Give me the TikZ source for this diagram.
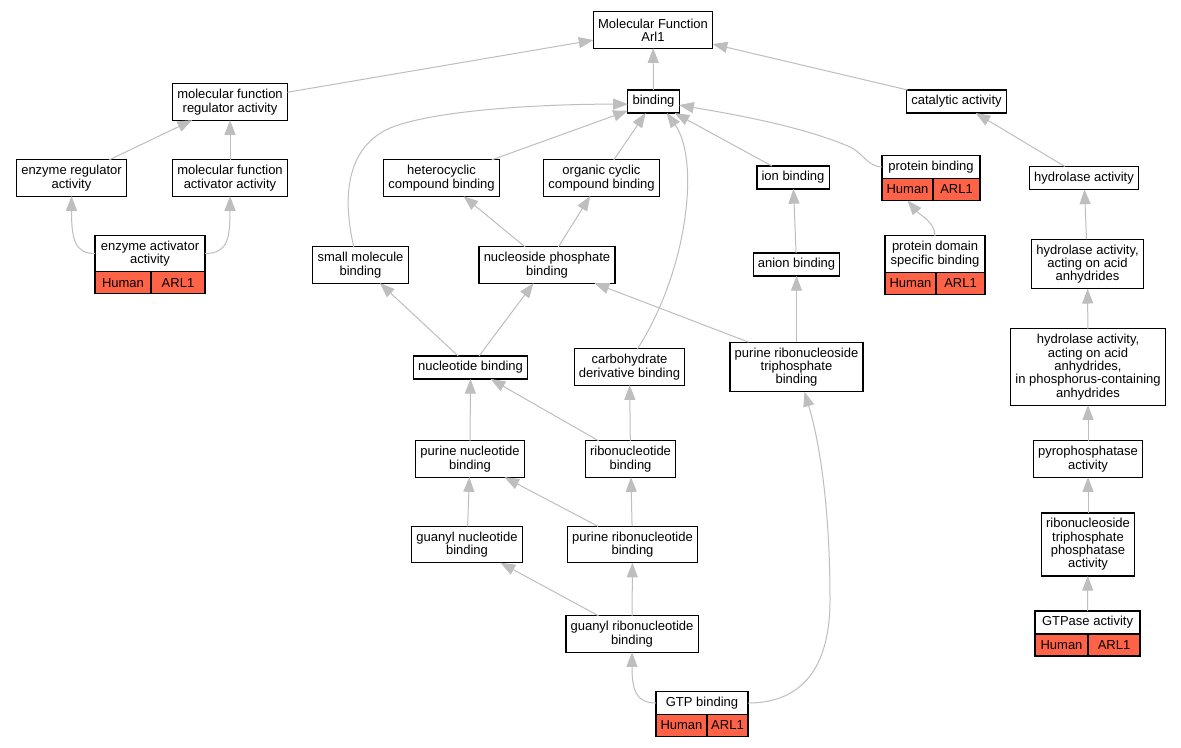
\documentclass[tikz,border=0pt]{standalone}
\usepackage{fontspec}
\setmainfont{Liberation Sans}
\usetikzlibrary{arrows.meta}
\definecolor{tomato}{RGB}{255,99,71}
\definecolor{edgegray}{RGB}{190,190,190}
\begin{document}
\begin{tikzpicture}[x=0.75pt, y=-0.75pt,
    term/.style={draw, fill=white, line width=0.9pt, outer sep=0pt, align=center,
      inner xsep=3.5pt, inner ysep=1pt, font=\fontsize{9.75}{10}\selectfont,
      minimum height={7.25pt+#1*10pt}},
    term/.default=1,
    cell/.style={draw, fill=tomato, line width=0.9pt, outer sep=0pt, anchor=north west,
      inner sep=0pt, minimum height=16.5pt, font=\fontsize{9.75}{10}\selectfont}]
  \path[use as bounding box, fill=white] (0,0) rectangle (1181,747);
  % terms
  \node[term=2] (mf) at (653,30) {Molecular Function\\Arl1};
  \node[term=2] (mfra) at (230,102) {molecular function\\regulator activity};
  \node[term] (binding) at (653.5,101.5) {binding};
  \node[term] (cat) at (956.5,101.5) {catalytic activity};
  \node[term=2] (era) at (71.5,178) {enzyme regulator\\activity};
  \node[term=2] (mfaa) at (230,178) {molecular function\\activator activity};
  \node[term=2] (hcb) at (441.5,178) {heterocyclic\\compound binding};
  \node[term=2] (ocb) at (601.5,178) {organic cyclic\\compound binding};
  \node[term] (ion) at (793,177.5) {ion binding};
  \node[term, minimum width=73.5pt] (pb) at (931,167) {protein binding};
  \node[term] (hyd) at (1084,178) {hydrolase activity};
  \node[term=2, minimum width=82.5pt] (eaa) at (150,253.5) {enzyme activator\\activity};
  \node[term=2] (sm) at (360.5,265) {small molecule\\binding};
  \node[term=2] (npb) at (547,265) {nucleoside phosphate\\binding};
  \node[term] (anion) at (796.5,264.5) {anion binding};
  \node[term=2, minimum width=75pt] (pdsb) at (935,254) {protein domain\\specific binding};
  \node[term=3] (haaa) at (1087.5,264) {hydrolase activity,\\acting on acid\\anhydrides};
  \node[term] (nb) at (470.5,367.5) {nucleotide binding};
  \node[term=2] (cdb) at (629.5,367) {carbohydrate\\derivative binding};
  \node[term=3] (prtb) at (796.5,367) {purine ribonucleoside\\triphosphate\\binding};
  \node[term=5] (hapc) at (1088,367) {hydrolase activity,\\acting on acid\\anhydrides,\\in phosphorus-containing\\anhydrides};
  \node[term=2] (pnb) at (470,459) {purine nucleotide\\binding};
  \node[term=2] (rb) at (630.5,459) {ribonucleotide\\binding};
  \node[term=2] (pyro) at (1088,459) {pyrophosphatase\\activity};
  \node[term=2] (gnb) at (467,544.5) {guanyl nucleotide\\binding};
  \node[term=2] (prnb) at (632.5,544.5) {purine ribonucleotide\\binding};
  \node[term=4] (rtpa) at (1088,544.5) {ribonucleoside\\triphosphate\\phosphatase\\activity};
  \node[term=2] (grnb) at (632,634) {guanyl ribonucleotide\\binding};
  \node[term, minimum width=78.75pt] (gtpase) at (1087.5,622.5) {GTPase activity};
  \node[term, minimum width=69pt] (gtp) at (702,703) {GTP binding};
  % annotations
  \node[cell, minimum width=42pt] (eaah) at (eaa.south west) {Human};
  \node[cell, minimum width=40.5pt] (eaaa) at (eaah.north east) {ARL1};
  \node[cell, minimum width=38.25pt] (pbh) at (pb.south west) {Human};
  \node[cell, minimum width=35.25pt] (pba) at (pbh.north east) {ARL1};
  \node[cell, minimum width=38.25pt] (pdsbh) at (pdsb.south west) {Human};
  \node[cell, minimum width=36.75pt] (pdsba) at (pdsbh.north east) {ARL1};
  \node[cell, minimum width=39.75pt] (gtpaseh) at (gtpase.south west) {Human};
  \node[cell, minimum width=39pt] (gtpasea) at (gtpaseh.north east) {ARL1};
  \node[cell, minimum width=38.25pt] (gtph) at (gtp.south west) {Human};
  \node[cell, minimum width=30.75pt] (gtpa) at (gtph.north east) {ARL1};
  \begin{scope}[color=edgegray, line width=0.75pt, -{Triangle[length=11pt, width=8.25pt]}]
    \draw (mfra) to (mf);
    \draw (binding) to (mf);
    \draw (cat) to (mf);
    \draw (era) to (mfra);
    \draw (mfaa) to (mfra);
    \draw (eaa.west) .. controls (75,253.5) and (71.5,240) .. (era.south);
    \draw (eaa.east) .. controls (227,253.5) and (230,240) .. (mfaa.south);
    \draw ([xshift=-5pt]sm.north) .. controls (345,210) and (340,150) .. (390,128)
      .. controls (440,108) and (560,104) .. ([yshift=-2pt]binding.west);
    \draw (hcb) to (binding);
    \draw (ocb) to (binding);
    \draw ([xshift=6pt]cdb.north) .. controls (688,270) and (700,160) .. ([xshift=10pt]binding.south);
    \draw (ion) to (binding);
    \draw (pb.west) .. controls (868,167) and (862,152) .. (850,147)
      .. controls (800,125) and (720,112) .. (binding.-8);
    \draw (npb) to (hcb);
    \draw (npb) to (ocb);
    \draw (nb) to (sm);
    \draw (nb) to (npb);
    \draw ([xshift=14pt]prtb.north west) to (npb);
    \draw (prtb) to (anion);
    \draw (anion) to (ion);
    \draw (pnb) to (nb);
    \draw (rb) to (nb);
    \draw (rb) to (cdb);
    \draw (gnb) to (pnb);
    \draw (prnb) to (pnb);
    \draw (prnb) to (rb);
    \draw (grnb) to (gnb);
    \draw (grnb) to (prnb);
    \draw (gtp.west) .. controls (636,703) and (632,690) .. (grnb.south);
    \draw (gtp.east) .. controls (800,703) and (830,670) .. (830,600)
      .. controls (830,520) and (822,450) .. ([xshift=6pt]prtb.south);
    \draw (pdsb.north) .. controls (935,222) and (920,215) .. (pbh.south);
    \draw (hyd) to (cat);
    \draw (haaa) to (hyd);
    \draw (hapc) to (haaa);
    \draw (pyro) to (hapc);
    \draw (rtpa) to (pyro);
    \draw (gtpase) to (rtpa);
  \end{scope}
\end{tikzpicture}
\end{document}
